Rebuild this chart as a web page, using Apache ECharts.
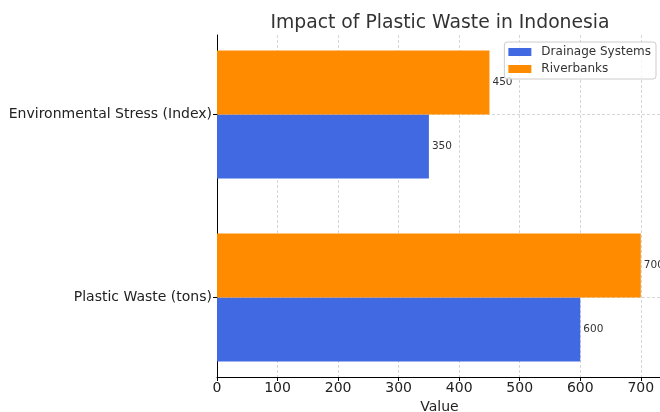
<!DOCTYPE html>
<html>
<head>
<meta charset="utf-8">
<script src="https://cdn.jsdelivr.net/npm/echarts@6/dist/echarts.min.js"></script>
<style>
  html, body { margin: 0; padding: 0; background: #fff; }
  #chart { width: 660px; height: 412px; }
</style>
</head>
<body>
<div id="chart"></div>
<script>
// Categories, bottom to top
const categories = ['Plastic Waste (tons)', 'Environmental Stress (Index)'];
// Series values, one per category
const drainage = [600, 350];
const riverbanks = [700, 450];
const seriesNames = ['Drainage Systems', 'Riverbanks'];

const FONT = 'DejaVu Sans';
const BAR = 0.35; // bar thickness in category units

// Draw a horizontal bar spanning [c + lo, c + hi] on the value-based category scale
function barRenderer(lo, hi) {
  return function (params, api) {
    const v = api.value(0);
    const c = api.value(1);
    const p0 = api.coord([0, c + lo]);
    const p1 = api.coord([v, c + hi]);
    return {
      type: 'rect',
      shape: { x: p0[0], y: p1[1], width: p1[0] - p0[0], height: p0[1] - p1[1] },
      style: api.style(),
      textContent: {
        style: { text: String(v), fontSize: 10.5, fontFamily: FONT, fill: '#333' }
      },
      textConfig: { position: 'right', distance: 3 }
    };
  };
}

const chart = echarts.init(document.getElementById('chart'), null, { renderer: 'canvas' });
chart.setOption({
  animation: false,
  backgroundColor: '#fff',
  title: {
    text: 'Impact of Plastic Waste in Indonesia',
    left: 435,
    textAlign: 'center',
    top: 9,
    textStyle: { fontFamily: FONT, fontSize: 18.8, fontWeight: 'normal', color: '#333' }
  },
  legend: {
    orient: 'vertical',
    right: 4,
    top: 42,
    icon: 'rect',
    itemWidth: 23,
    itemHeight: 8,
    itemGap: 3,
    padding: [3, 5, 3, 4],
    backgroundColor: 'rgba(255,255,255,0.8)',
    borderColor: '#ccc',
    borderWidth: 1,
    borderRadius: 3,
    textStyle: { fontFamily: FONT, fontSize: 12, color: '#333', lineHeight: 14, padding: [0, 0, 0, 5] },
    data: seriesNames
  },
  grid: { left: 217, top: 35, right: -2, bottom: 35, containLabel: false, outerBoundsMode: 'none' },
  xAxis: {
    type: 'value',
    min: 0,
    max: 735,
    interval: 100,
    name: 'Value',
    nameLocation: 'middle',
    nameGap: 21,
    nameTextStyle: { fontFamily: FONT, fontSize: 14, color: '#222' },
    axisLine: { show: true, onZero: false, lineStyle: { color: '#000', width: 1 } },
    axisTick: { show: true, length: 4, lineStyle: { color: '#000' } },
    axisLabel: { fontFamily: FONT, fontSize: 14, color: '#222', margin: 4, showMaxLabel: false },
    splitLine: { show: true, lineStyle: { color: '#cccccc', type: [3, 2], width: 0.8 } }
  },
  yAxis: {
    type: 'value',
    min: -0.435,
    max: 1.435,
    axisLine: { show: true, onZero: false, lineStyle: { color: '#000', width: 1 } },
    axisTick: { show: true, length: 4, customValues: [0, 1], lineStyle: { color: '#000' } },
    axisLabel: {
      customValues: [0, 1],
      fontFamily: FONT, fontSize: 14, color: '#222', margin: 5,
      formatter: function (v) { return categories[Math.round(v)]; }
    },
    splitLine: { show: true, lineStyle: { color: '#cccccc', type: [3, 2], width: 0.8 } }
  },
  series: [
    {
      name: seriesNames[0],
      type: 'custom',
      itemStyle: { color: '#4169E1' },
      renderItem: barRenderer(-BAR, 0),
      encode: { x: 0, y: 1 },
      data: drainage.map(function (v, i) { return [v, i]; }),
      z: 3
    },
    {
      name: seriesNames[1],
      type: 'custom',
      itemStyle: { color: '#FF8C00' },
      renderItem: barRenderer(0, BAR),
      encode: { x: 0, y: 1 },
      data: riverbanks.map(function (v, i) { return [v, i]; }),
      z: 3
    }
  ]
});
</script>
</body>
</html>
